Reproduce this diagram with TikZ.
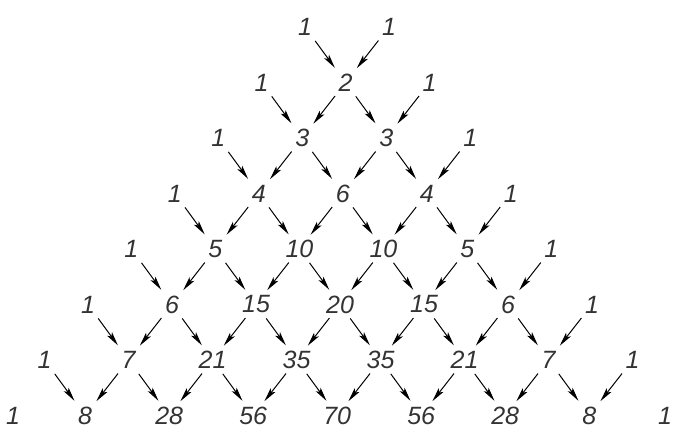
\documentclass[tikz,border=0pt]{standalone}
\usepackage{fontspec}
\newfontfamily\numfont{Liberation Sans}
\usetikzlibrary{arrows.meta}
\tikzset{
  num/.style={circle, minimum size=34pt, inner sep=0pt, text=black!80, font=\numfont\itshape\fontsize{25}{25}\selectfont},
  arr/.style={line width=1pt, shorten >=1pt, -{Stealth[length=14pt,width=6pt,inset=3pt]}}
}
\begin{document}
\begin{tikzpicture}[x=1pt,y=-1pt]
\useasboundingbox (0,0) rectangle (674,434);
\foreach \vals [count=\r from 0] in {{1,1},{1,2,1},{1,3,3,1},{1,4,6,4,1},{1,5,10,10,5,1},{1,6,15,20,15,6,1},{1,7,21,35,35,21,7,1},{1,8,28,56,70,56,28,8,1}} {
  \foreach \v [count=\k from 0] in \vals {
    \pgfmathsetmacro\xx{(\r==7 && \k==0) ? 13 : ((\r==7 && \k==8) ? 665 : 347-1.4*\r+(2*\k-\r-1)*42)}
    \pgfmathsetmacro\yy{27+55.5*\r}
    \node[num] (n-\r-\k) at (\xx,\yy) {\v};
  }
}
\foreach \r in {1,...,7} {
  \pgfmathtruncatemacro\p{\r-1}
  \foreach \k in {1,...,\r} {
    \pgfmathtruncatemacro\km{\k-1}
    \draw[arr] (n-\p-\km) -- (n-\r-\k);
    \draw[arr] (n-\p-\k) -- (n-\r-\k);
  }
}
\end{tikzpicture}
\end{document}
